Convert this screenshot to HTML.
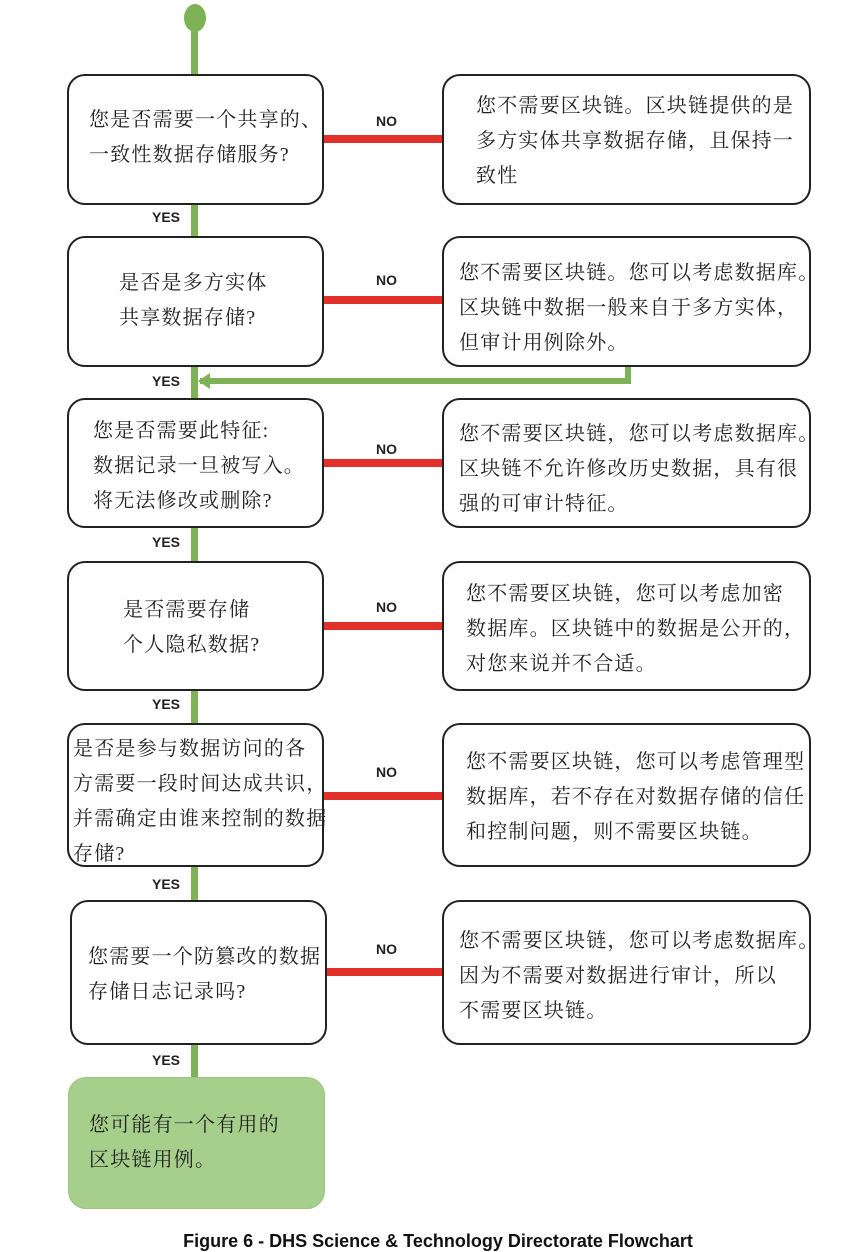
<!DOCTYPE html>
<html><head><meta charset="utf-8"><style>
body{margin:0;width:864px;height:1252px;background:#fff;position:relative;overflow:hidden;font-family:"Liberation Serif","Noto Serif CJK SC",serif;}
.b{position:absolute;border:2px solid #222;border-radius:18px;background:#fff;box-sizing:border-box;font-size:20px;letter-spacing:1.2px;line-height:35px;color:#222;}
.b div{position:absolute;white-space:nowrap;}
.g{position:absolute;background:#7db356;}
.r{position:absolute;background:#e2312b;height:8px;}
.l{position:absolute;font-family:"Liberation Sans",sans-serif;font-weight:bold;font-size:14px;color:#222;}
</style></head><body>
<div class="g" style="left:191px;top:17px;width:7px;height:1062px"></div>
<div style="position:absolute;left:184px;top:4px;width:22px;height:28px;border-radius:50%;background:#7db356"></div>
<div class="g" style="left:625px;top:364px;width:6px;height:20px"></div>
<div class="g" style="left:200px;top:378px;width:431px;height:6px"></div>
<div style="position:absolute;left:198px;top:373px;width:0;height:0;border-top:8px solid transparent;border-bottom:8px solid transparent;border-right:12px solid #7db356"></div>

<div class="r" style="left:322px;top:135px;width:122px"></div>
<div class="r" style="left:322px;top:296px;width:122px"></div>
<div class="r" style="left:322px;top:459px;width:122px"></div>
<div class="r" style="left:322px;top:622px;width:122px"></div>
<div class="r" style="left:322px;top:792px;width:122px"></div>
<div class="r" style="left:326px;top:968px;width:118px"></div>

<div class="l" style="left:376px;top:113px">NO</div>
<div class="l" style="left:376px;top:272px">NO</div>
<div class="l" style="left:376px;top:441px">NO</div>
<div class="l" style="left:376px;top:599px">NO</div>
<div class="l" style="left:376px;top:764px">NO</div>
<div class="l" style="left:376px;top:941px">NO</div>
<div class="l" style="left:152px;top:209px">YES</div>
<div class="l" style="left:152px;top:373px">YES</div>
<div class="l" style="left:152px;top:534px">YES</div>
<div class="l" style="left:152px;top:696px">YES</div>
<div class="l" style="left:152px;top:876px">YES</div>
<div class="l" style="left:152px;top:1052px">YES</div>

<div class="b" style="left:67px;top:74px;width:257px;height:131px"><div style="left:20px;top:27px">您是否需要一个共享的、<br>一致性数据存储服务?</div></div>
<div class="b" style="left:442px;top:74px;width:369px;height:131px"><div style="left:32px;top:13px">您不需要区块链。区块链提供的是<br>多方实体共享数据存储，且保持一<br>致性</div></div>

<div class="b" style="left:67px;top:236px;width:257px;height:131px"><div style="left:50px;top:28px">是否是多方实体<br>共享数据存储?</div></div>
<div class="b" style="left:442px;top:236px;width:369px;height:131px"><div style="left:15px;top:18px">您不需要区块链。您可以考虑数据库。<br>区块链中数据一般来自于多方实体，<br>但审计用例除外。</div></div>

<div class="b" style="left:67px;top:398px;width:257px;height:130px"><div style="left:24px;top:14px">您是否需要此特征:<br>数据记录一旦被写入。<br>将无法修改或删除?</div></div>
<div class="b" style="left:442px;top:398px;width:369px;height:130px"><div style="left:15px;top:17px">您不需要区块链，您可以考虑数据库。<br>区块链不允许修改历史数据，具有很<br>强的可审计特征。</div></div>

<div class="b" style="left:67px;top:561px;width:257px;height:130px"><div style="left:54px;top:30px">是否需要存储<br>个人隐私数据?</div></div>
<div class="b" style="left:442px;top:561px;width:369px;height:130px"><div style="left:22px;top:14px">您不需要区块链，您可以考虑加密<br>数据库。区块链中的数据是公开的，<br>对您来说并不合适。</div></div>

<div class="b" style="left:67px;top:723px;width:257px;height:144px"><div style="left:4px;top:7px">是否是参与数据访问的各<br>方需要一段时间达成共识，<br>并需确定由谁来控制的数据<br>存储?</div></div>
<div class="b" style="left:442px;top:723px;width:369px;height:144px"><div style="left:22px;top:20px">您不需要区块链，您可以考虑管理型<br>数据库，若不存在对数据存储的信任<br>和控制问题，则不需要区块链。</div></div>

<div class="b" style="left:70px;top:900px;width:257px;height:145px"><div style="left:16px;top:38px">您需要一个防篡改的数据<br>存储日志记录吗?</div></div>
<div class="b" style="left:442px;top:900px;width:369px;height:145px"><div style="left:15px;top:22px">您不需要区块链，您可以考虑数据库。<br>因为不需要对数据进行审计，所以<br>不需要区块链。</div></div>

<div class="b" style="left:68px;top:1077px;width:257px;height:132px;background:#a6cf8c;border:1px solid #9bc480"><div style="left:20px;top:30px">您可能有一个有用的<br>区块链用例。</div></div>

<div style="position:absolute;left:0;width:876px;top:1231px;text-align:center;font-family:'Liberation Sans',sans-serif;font-weight:bold;font-size:18px;color:#111">Figure 6 - DHS Science &amp; Technology Directorate Flowchart</div>
</body></html>
